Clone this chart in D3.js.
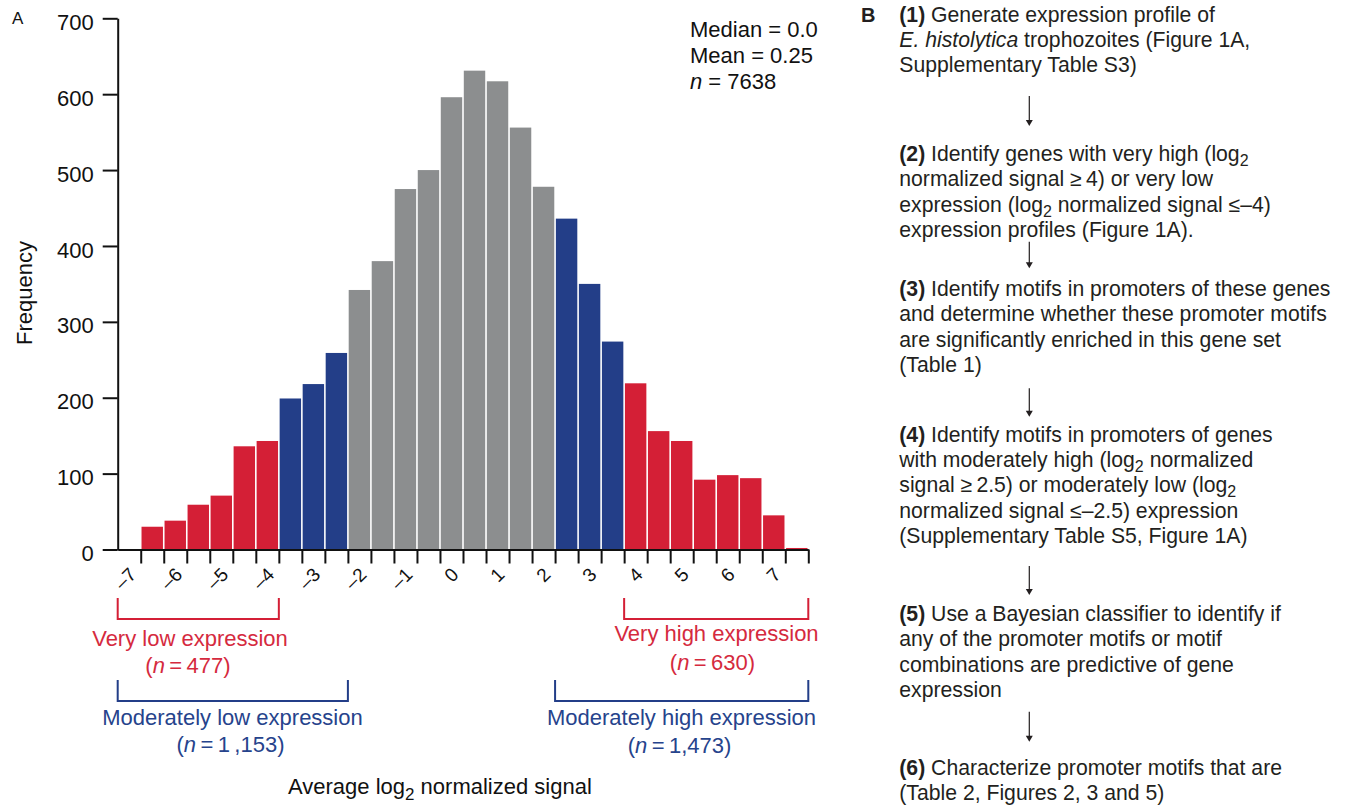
<!DOCTYPE html>
<html>
<head>
<meta charset="utf-8">
<script src="https://cdn.jsdelivr.net/npm/d3@7"></script>
<style>
  body { margin: 0; background: #fff; }
  svg { display: block; font-family: "Liberation Sans", Arial, Helvetica, sans-serif; }
</style>
</head>
<body>
<div id="chart"></div>
<script>
// histogram bins (left edge, width 0.5) and counts
var binStarts = [-7, -6.5, -6, -5.5, -5, -4.5, -4, -3.5, -3, -2.5, -2, -1.5, -1, -0.5,
                 0, 0.5, 1, 1.5, 2, 2.5, 3, 3.5, 4, 4.5, 5, 5.5, 6, 6.5, 7];
var counts = [30, 38, 59, 71, 136, 143, 199, 218, 259, 342, 380, 475, 500, 596,
              631, 617, 556, 478, 436, 350, 274, 219, 156, 143, 92, 98, 94, 45, 2];
var groups = ["vlow", "vlow", "vlow", "vlow", "vlow", "vlow", "mlow", "mlow", "mlow",
              "mid", "mid", "mid", "mid", "mid", "mid", "mid", "mid", "mid",
              "mhigh", "mhigh", "mhigh", "vhigh", "vhigh", "vhigh", "vhigh", "vhigh", "vhigh", "vhigh", "vhigh"];

var xTickValues = [-7, -6.5, -6, -5.5, -5, -4.5, -4, -3.5, -3, -2.5, -2, -1.5, -1, -0.5,
                   0, 0.5, 1, 1.5, 2, 2.5, 3, 3.5, 4, 4.5, 5, 5.5, 6, 6.5, 7, 7.5];
var xLabels = [-7, -6, -5, -4, -3, -2, -1, 0, 1, 2, 3, 4, 5, 6, 7];
var yTicks = [0, 100, 200, 300, 400, 500, 600, 700];

var stats = ["Median = 0.0", "Mean = 0.25", "<i>n</i> = 7638"];

// brackets: [from, to, colour group, label, n label]
var brackets = [
  [-7.5, -4, "vlow", "Very low expression", "(<i>n</i>\u2009=\u2009477)"],
  [-7.5, -2.5, "mlow", "Moderately low expression", "(<i>n</i>\u2009=\u20091\u2009,153)"],
  [3.5, 7.5, "vhigh", "Very high expression", "(<i>n</i>\u2009=\u2009630)"],
  [2, 7.5, "mhigh", "Moderately high expression", "(<i>n</i>\u2009=\u20091,473)"]
];

var steps = [
  ["<b>(1)</b> Generate expression profile of",
   "<i>E. histolytica</i> trophozoites (Figure 1A,",
   "Supplementary Table S3)"],
  ["<b>(2)</b> Identify genes with very high (log<sub>2</sub>",
   "normalized signal \u2265\u20094) or very low",
   "expression (log<sub>2</sub> normalized signal \u2264\u20134)",
   "expression profiles (Figure 1A)."],
  ["<b>(3)</b> Identify motifs in promoters of these genes",
   "and determine whether these promoter motifs",
   "are significantly enriched in this gene set",
   "(Table 1)"],
  ["<b>(4)</b> Identify motifs in promoters of genes",
   "with moderately high (log<sub>2</sub> normalized",
   "signal \u2265\u20092.5) or moderately low (log<sub>2</sub>",
   "normalized signal  \u2264\u20132.5) expression",
   "(Supplementary Table S5,  Figure 1A)"],
  ["<b>(5)</b> Use a Bayesian classifier to identify if",
   "any of the promoter motifs or motif",
   "combinations are predictive of gene",
   "expression"],
  ["<b>(6)</b> Characterize promoter motifs that are",
   "(Table 2, Figures 2, 3 and 5)"]
];

var fills = { vlow: "#d41f36", mlow: "#233e88", mid: "#8c8e8f", mhigh: "#233e88", vhigh: "#d41f36" };
var textCol = { vlow: "#d52a3e", mlow: "#26438c", vhigh: "#d52a3e", mhigh: "#26438c" };

var W = 1349, H = 805;
var svg = d3.select("#chart").append("svg").attr("width", W).attr("height", H);
svg.append("rect").attr("width", W).attr("height", H).attr("fill", "#fff");

var x = d3.scaleLinear().domain([-7.5, 7.5]).range([117.7, 808.3]);
var y = d3.scaleLinear().domain([0, 700]).range([549.5, 18.3]);

// small markup: <b>, <i>, <sub>
function rich(sel, str, size, sh) {
  var re = /<(b|i|sub)>(.*?)<\/\1>|([^<]+)/g, m, shift = 0;
  while ((m = re.exec(str))) {
    var t = sel.append("tspan").text(m[2] !== undefined ? m[2] : m[3]);
    if (m[1] === "b") t.attr("font-weight", "bold");
    if (m[1] === "i") t.attr("font-style", "italic");
    if (m[1] === "sub") {
      shift = sh || Math.round(size * 0.25);
      t.attr("font-size", Math.round(size * 0.78)).attr("dy", shift);
    } else if (shift) {
      t.attr("dy", -shift);
      shift = 0;
    }
  }
}

// bars
svg.append("g").selectAll("rect")
  .data(counts)
  .join("rect")
  .attr("x", function(d, i) { return x(binStarts[i]) + 0.8; })
  .attr("width", function(d, i) { return x(binStarts[i] + 0.5) - x(binStarts[i]) - 1.6; })
  .attr("y", function(d) { return y(d); })
  .attr("height", function(d) { return y(0) - y(d); })
  .attr("fill", function(d, i) { return fills[groups[i]]; });

// y axis
var yAxis = svg.append("g")
  .attr("transform", "translate(" + x(-7.5) + ",0)")
  .call(d3.axisLeft(y).tickValues(yTicks).tickSize(15).tickPadding(9).tickSizeOuter(0));
yAxis.selectAll("path, line").attr("stroke", "#111").attr("stroke-width", 2);
yAxis.selectAll("text").attr("font-size", 22).attr("font-family", null).attr("fill", "#111").attr("y", 4);

// x axis
var xAxis = svg.append("g")
  .attr("transform", "translate(0," + y(0) + ")")
  .call(d3.axisBottom(x).tickValues(xTickValues).tickSize(14).tickSizeOuter(0).tickFormat(""));
xAxis.selectAll("path, line").attr("stroke", "#111").attr("stroke-width", 2);

svg.append("g").selectAll("text")
  .data(xLabels)
  .join("text")
  .attr("transform", function(d) { return "translate(" + (x(d) - 8) + ",571) rotate(-45)"; })
  .attr("text-anchor", "end")
  .attr("dy", "0.35em")
  .attr("font-size", 19)
  .attr("fill", "#111")
  .text(function(d) { return d < 0 ? "\u2013" + Math.abs(d) : d; });

// axis titles
svg.append("text")
  .attr("transform", "translate(31.7,293) rotate(-90)")
  .attr("text-anchor", "middle")
  .attr("font-size", 22)
  .attr("fill", "#111")
  .text("Frequency");

var xt = svg.append("text")
  .attr("x", 288)
  .attr("y", 794)
  .attr("font-size", 22)
  .attr("fill", "#111");
rich(xt, "Average log<sub>2</sub> normalized signal", 22, 6);

// stats
svg.append("g").selectAll("text")
  .data(stats)
  .join("text")
  .attr("x", 690)
  .attr("y", function(d, i) { return 37.3 + i * 26; })
  .attr("font-size", 22)
  .attr("fill", "#111")
  .each(function(d) { rich(d3.select(this), d, 22); });

// panel letters
svg.append("text").attr("x", 12).attr("y", 24).attr("font-size", 17).attr("fill", "#111").text("A");
svg.append("text").attr("x", 861).attr("y", 21.7).attr("font-size", 20)
  .attr("font-weight", "bold").attr("fill", "#231f20").text("B");

// brackets and their labels
var bracketTop = [598, 680], bracketBot = [619, 701];
var labelY = { vlow: [646, 673], mlow: [725, 752], vhigh: [640.5, 670], mhigh: [725, 753] };
brackets.forEach(function(b) {
  var row = (b[2] === "vlow" || b[2] === "vhigh") ? 0 : 1;
  var x1 = x(b[0]), x2 = x(b[1]);
  svg.append("path")
    .attr("d", "M" + x1 + "," + bracketTop[row] + "V" + bracketBot[row] + "H" + x2 + "V" + bracketTop[row])
    .attr("fill", "none")
    .attr("stroke", fills[b[2]])
    .attr("stroke-width", 2);
  var cx = b[2] === "vlow" ? 190 : b[2] === "mlow" ? 232.5 : b[2] === "vhigh" ? 716.5 : 681.5;
  svg.append("text").attr("x", cx).attr("y", labelY[b[2]][0])
    .attr("text-anchor", "middle").attr("font-size", 22).attr("fill", textCol[b[2]])
    .text(b[3]);
  var t = svg.append("text").attr("x", cx - (b[2] === "vhigh" ? 4 : 2)).attr("y", labelY[b[2]][1])
    .attr("text-anchor", "middle").attr("font-size", 22).attr("fill", textCol[b[2]]);
  rich(t, b[4], 22);
});

// panel B: workflow steps
var stepTop = [21.7, 161, 296, 441.7, 621, 775];
var lineGap = 25.3;
var arrows = [[96, 126], [241.7, 268.3], [388.3, 416.7], [566, 595], [711.7, 741.7]];
var pb = svg.append("g").attr("fill", "#231f20");
steps.forEach(function(lines, s) {
  lines.forEach(function(line, j) {
    var t = pb.append("text")
      .attr("x", 899.3)
      .attr("y", stepTop[s] + j * lineGap)
      .attr("font-size", 21.2);
    rich(t, line, 21);
  });
});
arrows.forEach(function(a) {
  pb.append("line")
    .attr("x1", 1029.3).attr("x2", 1029.3)
    .attr("y1", a[0]).attr("y2", a[1] - 4)
    .attr("stroke", "#231f20").attr("stroke-width", 1.2);
  pb.append("path")
    .attr("d", "M" + (1029.3 - 3.5) + "," + (a[1] - 6) + "L" + (1029.3 + 3.5) + "," + (a[1] - 6) + "L1029.3," + a[1] + "Z");
});
</script>
</body>
</html>
